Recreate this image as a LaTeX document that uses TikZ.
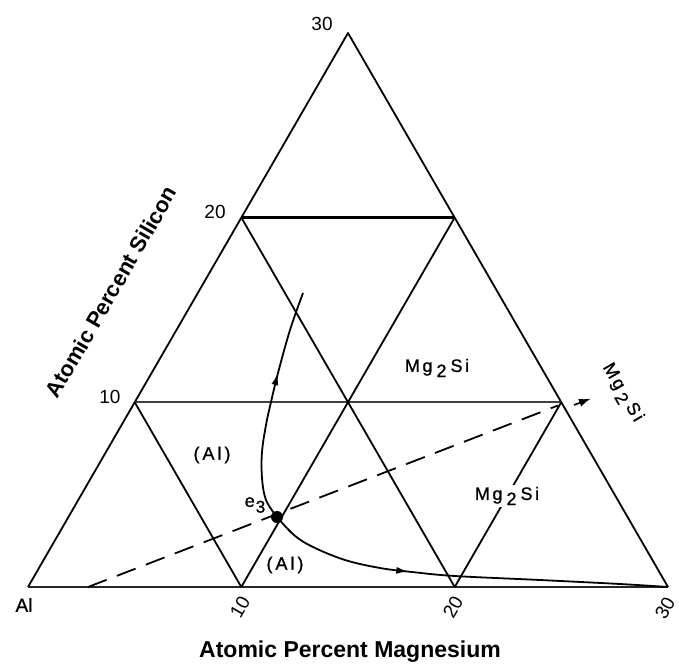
\documentclass[tikz,border=0pt]{standalone}
\usepackage{fontspec}
\setmainfont{Liberation Sans}
\newfontfamily\lblfont[FakeBold=1]{Liberation Sans}
\usetikzlibrary{arrows.meta,decorations.markings}
\newcommand\numsize{\fontsize{9.5pt}{11pt}\selectfont}
\newcommand\lblsize{\lblfont\fontsize{9pt}{10pt}\selectfont}
\newcommand\MgSiTxt{M\kern1.3pt g\kern2pt\raisebox{-0.55ex}{\fontsize{9pt}{9pt}\selectfont 2}\kern2pt S\kern1.3pt i}
\newcommand\AlTxt{(\kern1.5pt A\kern1.5pt l\kern1.5pt )}
\begin{document}
\begin{tikzpicture}[x=0.5pt,y=-0.5pt,
  gridline/.style={line width=0.9pt,line join=round},
  thickline/.style={line width=1.6pt},
  baseline/.style={line width=1.2pt,black!85},
  midline/.style={line width=1.1pt,black!75},
  curveline/.style={line width=0.9pt},
  joinline/.style={line width=0.9pt,dash pattern=on 10pt off 5.5pt},
  numlbl/.style={font=\numsize,inner sep=0pt},
  phaselbl/.style={font=\lblsize,inner sep=1pt},
  axislbl/.style={font=\bfseries\fontsize{11.5pt}{13pt}\selectfont,inner sep=0pt},
  tipmark/.style={-{Latex[length=6pt,width=4pt]}}]
\useasboundingbox (0,0) rectangle (679,668);
% corners and grid points
\coordinate (A) at (28,587);
\coordinate (B) at (668,587);
\coordinate (C) at (348,33);
\coordinate (b10) at (241.3,587);
\coordinate (b20) at (454.7,587);
\coordinate (l10) at (134.7,402.2);
\coordinate (l20) at (241.3,217.5);
\coordinate (r10) at (561.3,402.2);
\coordinate (r20) at (454.7,217.5);
\coordinate (m) at (348,402.2);
% triangle
\draw[gridline] (A) -- (C) -- (B);
\draw[baseline] (A) -- (B);
% grid
\draw[midline] (l10) -- (r10);
\draw[thickline] (l20) -- (r20);
\draw[gridline] (b10) -- (m) -- (r20);
\draw[gridline] (b20) -- (r10);
\draw[gridline] (l10) -- (b10);
\draw[gridline] (l20) -- (m) -- (b20);
% Al-Mg2Si join
\coordinate (d0) at (88,587);
\coordinate (d1) at (558,405.5);
\draw[joinline] (d0) -- (d1);
\coordinate (t0) at (574,405);
\coordinate (t1) at (591,398.5);
\draw[tipmark,line width=0.8pt] (t0) -- (t1);
% eutectic point
\coordinate (e3) at (277,517);
\fill (e3) circle (6);
% liquidus valleys
\draw[curveline,decoration={markings,mark=at position 0.64 with {\arrow{Latex[length=6pt,width=3.5pt]}}},postaction={decorate}]
  plot[smooth,tension=0.6] coordinates {(e3) (266,500) (262,478) (262,452) (266,425) (271,402) (278,373) (290,330) (303,293)};
\draw[curveline,decoration={markings,mark=at position 0.36 with {\arrow{Latex[length=6pt,width=3.5pt]}}},postaction={decorate}]
  plot[smooth,tension=0.6] coordinates {(e3) (294,535) (313,547) (345,560) (380,568) (412,572) (455,576) (540,580) (620,584) (B)};
% labels
\node[numlbl] (n30t) at (322,24) {30};
\node[numlbl] (n20l) at (215,212) {20};
\node[numlbl] (n10l) at (110,397) {10};
\node[numlbl,font=\lblfont\numsize] (nAl) at (24,605) {Al};
\node[numlbl,rotate=60] (n10b) at (240,607) {10};
\node[numlbl,rotate=60] (n20b) at (453,607) {20};
\node[numlbl,rotate=60] (n30b) at (665,608) {30};
\node[phaselbl] (al1) at (212,455) {\AlTxt};
\node[phaselbl] (al2) at (285,565) {\AlTxt};
\node[phaselbl] (mg1) at (437,368) {\MgSiTxt};
\node[phaselbl,fill=white] (mg2) at (507,496) {\MgSiTxt};
\node[phaselbl,rotate=-60] (mg3) at (622,393) {\MgSiTxt};
\node[phaselbl] (e3l) at (255,505) {e\kern0.5pt\raisebox{-0.6ex}{\fontsize{8.5pt}{9pt}\selectfont 3}};
\node[axislbl] (xlab) at (350,652) {Atomic Percent Magnesium};
\node[axislbl,rotate=60,font=\bfseries\fontsize{11pt}{13pt}\selectfont] (ylab) at (111,292) {Atomic Percent Silicon};
\end{tikzpicture}
\end{document}
